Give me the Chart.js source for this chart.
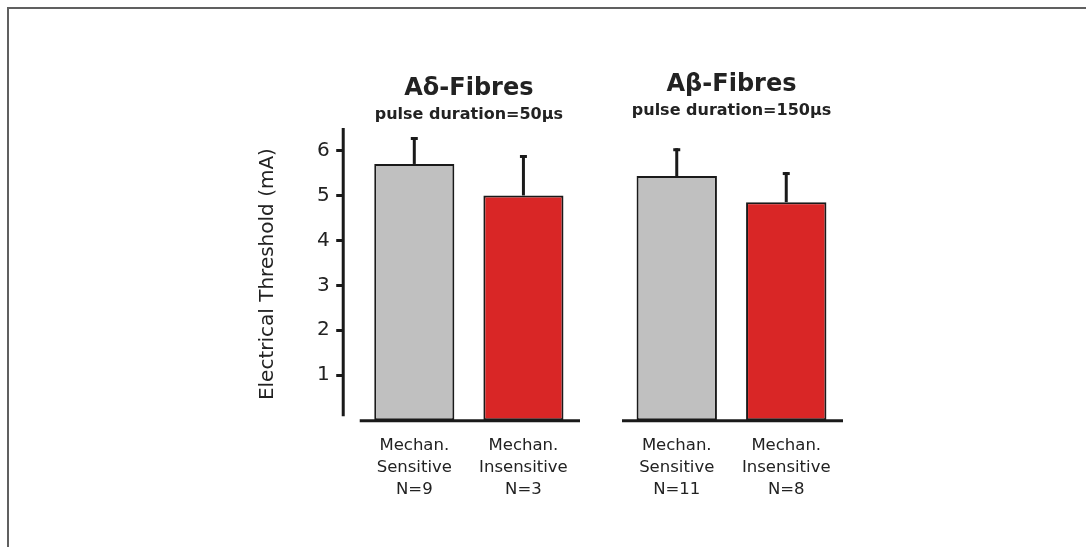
<!DOCTYPE html>
<html>
<head>
<meta charset="utf-8">
<script src="https://cdn.jsdelivr.net/npm/chart.js@4.4.0/dist/chart.umd.min.js"></script>
<style>
  body { margin: 0; background: #fff; width: 1086px; height: 547px; overflow: hidden; position: relative; }
  .frame { position: absolute; left: 7px; top: 7px; width: 1200px; height: 700px;
           border-top: 2px solid #606060; border-left: 2px solid #606060; }
  canvas { position: absolute; top: 0; }
  #chartAd { left: 0; }
  #chartAb { left: 600px; }
</style>
</head>
<body>
<div class="frame"></div>
<canvas id="chartAd" width="600" height="547"></canvas>
<canvas id="chartAb" width="486" height="547"></canvas>
<script>
const groupTitles = ["Aδ-Fibres", "Aβ-Fibres"];
const pulseLabels = ["pulse duration=50μs", "pulse duration=150μs"];

const adCategories = [["Mechan.", "Sensitive", "N=9"], ["Mechan.", "Insensitive", "N=3"]];
const adMeans = [5.7, 5.0];
const adErrors = [0.6, 0.9];

const abCategories = [["Mechan.", "Sensitive", "N=11"], ["Mechan.", "Insensitive", "N=8"]];
const abMeans = [5.43, 4.85];
const abErrors = [0.62, 0.67];

const yTicks = [1, 2, 3, 4, 5, 6];
const yTitle = "Electrical Threshold (mA)";

const barColors = ["#c0c0c0", "#d92626"];
const ink = "#1a1a1a";

Chart.defaults.font.family = "'DejaVu Sans', Arial, sans-serif";
Chart.defaults.color = "#222";

// upper error whiskers plus the detached axis lines
const axesAndErrors = {
  id: "axesAndErrors",
  afterDatasetsDraw(chart, args, opts) {
    const { ctx, chartArea, scales: { y } } = chart;
    const values = chart.data.datasets[0].data;
    const meta = chart.getDatasetMeta(0);
    ctx.save();
    ctx.strokeStyle = ink;
    ctx.lineWidth = 3;

    meta.data.forEach((bar, i) => {
      const top = y.getPixelForValue(values[i] + opts.errors[i]);
      ctx.beginPath();
      ctx.moveTo(bar.x, bar.y);
      ctx.lineTo(bar.x, top);
      ctx.stroke();
      ctx.beginPath();
      ctx.moveTo(bar.x - 3.5, top + 1.5);
      ctx.lineTo(bar.x + 3.5, top + 1.5);
      ctx.stroke();
    });

    const y0 = y.getPixelForValue(0);
    ctx.beginPath();
    ctx.moveTo(chartArea.left, y0 + 0.5);
    ctx.lineTo(chartArea.right + 2, y0 + 0.5);
    ctx.stroke();

    if (opts.yAxis) {
      const ax = chartArea.left - 16.5;
      ctx.beginPath();
      ctx.moveTo(ax, y.getPixelForValue(y.max));
      ctx.lineTo(ax, y0 - 4);
      yTicks.forEach(v => {
        const py = Math.round(y.getPixelForValue(v)) + 0.5;
        ctx.moveTo(ax - 7, py);
        ctx.lineTo(ax, py);
      });
      ctx.stroke();
    }
    ctx.restore();
  }
};

const makeChart = (id, categories, means, errors, title, subtitle, pad, showY, subGap) => {
  const ctx = document.getElementById(id).getContext("2d");
  return new Chart(ctx, {
    type: "bar",
    data: {
      labels: categories,
      datasets: [
        {
          data: means,
          backgroundColor: barColors,
          borderColor: ink,
          borderWidth: 2,
          borderSkipped: false,
          categoryPercentage: 1,
          barPercentage: 0.734,
        },
      ],
    },
    options: {
      responsive: false,
      animation: false,
      devicePixelRatio: 1,
      layout: { padding: pad },
      plugins: {
        legend: { display: false },
        tooltip: { enabled: false },
        title: {
          display: true,
          text: title,
          fullSize: false,
          color: "#222",
          font: { size: 24, weight: "bold" },
          padding: { top: 0, bottom: 0 },
        },
        subtitle: {
          display: true,
          text: subtitle,
          fullSize: false,
          color: "#222",
          font: { size: 16, weight: "bold" },
          padding: { top: 2, bottom: subGap },
        },
        axesAndErrors: { errors: errors, yAxis: showY },
      },
      scales: {
        x: {
          grid: { display: false, drawTicks: false },
          border: { display: false },
          ticks: {
            color: "#222",
            font: { size: 16.5, lineHeight: 1.35 },
            padding: 14,
            maxRotation: 0,
            autoSkip: false,
          },
        },
        y: {
          display: showY,
          min: 0,
          max: 6.5,
          grid: { display: false, drawTicks: false },
          border: { display: false },
          ticks: {
            stepSize: 1,
            includeBounds: false,
            padding: 30,
            color: "#222",
            font: { size: 20 },
            callback: v => (v === 0 ? "" : v),
          },
          title: {
            display: true,
            text: yTitle,
            color: "#222",
            font: { size: 20 },
            padding: { top: 0, bottom: 7 },
          },
        },
      },
    },
    plugins: [axesAndErrors],
  });
};

makeChart("chartAd", adCategories, adMeans, adErrors, groupTitles[0], pulseLabels[0],
  { top: 74, left: 256, right: 22, bottom: 32 }, true, 4);
makeChart("chartAb", abCategories, abMeans, abErrors, groupTitles[1], pulseLabels[1],
  { top: 70, left: 22, right: 245, bottom: 32 }, false, 8);
</script>
</body>
</html>
